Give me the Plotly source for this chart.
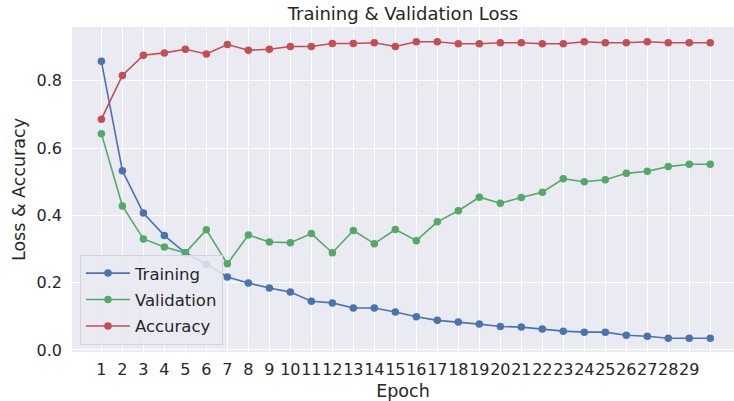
import plotly.graph_objects as go

epochs = list(range(1, 31))
tick_labels = [str(i) for i in range(1, 30)] + [""]

training = [0.858, 0.533, 0.407, 0.340, 0.289, 0.255, 0.217, 0.199, 0.184, 0.172,
            0.145, 0.140, 0.125, 0.125, 0.113, 0.099, 0.088, 0.083, 0.077, 0.070,
            0.068, 0.062, 0.056, 0.053, 0.053, 0.044, 0.041, 0.035, 0.035, 0.035]
validation = [0.643, 0.428, 0.330, 0.306, 0.289, 0.357, 0.256, 0.342, 0.321, 0.319,
              0.346, 0.289, 0.355, 0.316, 0.358, 0.325, 0.381, 0.414, 0.454, 0.436,
              0.453, 0.469, 0.509, 0.500, 0.506, 0.525, 0.531, 0.545, 0.552, 0.552]
accuracy = [0.686, 0.816, 0.876, 0.883, 0.894, 0.880, 0.908, 0.891, 0.894, 0.902,
            0.902, 0.911, 0.911, 0.913, 0.902, 0.916, 0.916, 0.910, 0.910, 0.913,
            0.913, 0.910, 0.910, 0.916, 0.913, 0.913, 0.916, 0.913, 0.913, 0.913]

series = [("Training", training, "#4C72B0"),
          ("Validation", validation, "#55A868"),
          ("Accuracy", accuracy, "#C44E52")]

FONT = "DejaVu Sans"
TXT = "#262626"

fig = go.Figure()
for name, vals, col in series:
    fig.add_trace(go.Scatter(
        x=epochs, y=vals, name=name, mode="lines+markers",
        legendgroup=name,
        line=dict(color=col, width=1.6),
        marker=dict(color=col, size=7.5),
    ))

fig.update_layout(
    width=734, height=401,
    margin=dict(l=72, r=0, t=27, b=49),
    paper_bgcolor="white",
    plot_bgcolor="#EAEAF2",
    font=dict(family=FONT, color=TXT, size=16),
    title=dict(text="Training & Validation Loss", x=0.549, xanchor="center",
               y=0.965, yanchor="middle", font=dict(size=18, color=TXT, family=FONT)),
    showlegend=True,
    legend=dict(x=0.012, y=0.022, xanchor="left", yanchor="bottom",
                bgcolor="rgba(234,234,242,0.85)", bordercolor="#d2d2da", borderwidth=1,
                font=dict(size=16.5, color=TXT, family=FONT),
                tracegroupgap=2, itemwidth=44),
)

fig.update_xaxes(
    range=[-0.4, 31.13],
    tickmode="array", tickvals=epochs, ticktext=tick_labels,
    tickangle=0,
    showgrid=True, gridcolor="white", gridwidth=1,
    zeroline=False, showline=False, ticks="",
    ticklabelstandoff=6,
    tickfont=dict(size=16, color=TXT, family=FONT),
    title=dict(text="Epoch", standoff=6, font=dict(size=17.5, color=TXT, family=FONT)),
    automargin=False,
)
fig.update_yaxes(
    range=[-0.006, 0.96],
    tickmode="array", tickvals=[0.0, 0.2, 0.4, 0.6, 0.8],
    ticktext=["0.0", "0.2", "0.4", "0.6", "0.8"],
    showgrid=True, gridcolor="white", gridwidth=1,
    zeroline=False, showline=False, ticks="",
    ticklabelstandoff=9,
    tickfont=dict(size=16, color=TXT, family=FONT),
    title=dict(text="Loss & Accuracy", standoff=6, font=dict(size=17.5, color=TXT, family=FONT)),
    automargin=False,
)

fig.write_html("out.html", config={"displayModeBar": False},
               post_script="document.body.style.margin='0';document.body.style.overflow='hidden';")
